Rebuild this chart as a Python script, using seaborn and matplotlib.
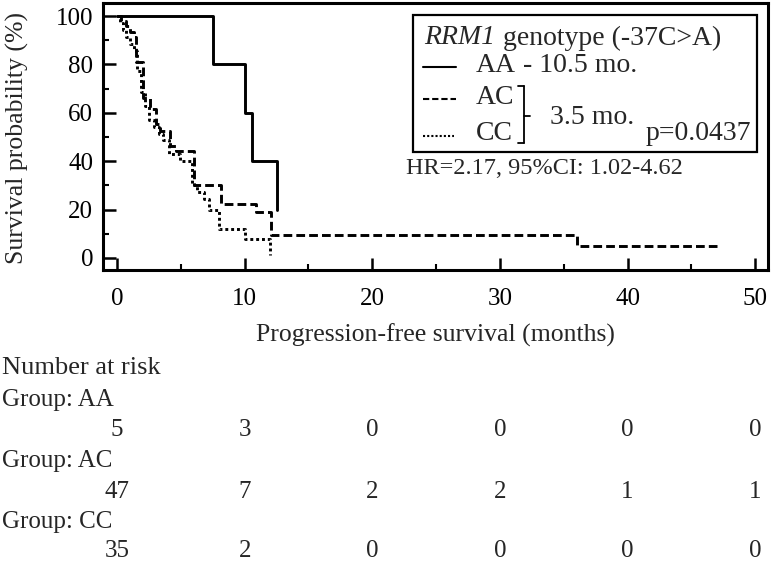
import numpy as np
import pandas as pd
import matplotlib
matplotlib.use("Agg")
import matplotlib.pyplot as plt
import seaborn as sns
from matplotlib.lines import Line2D
from matplotlib.patches import Rectangle

# ---------------- data ----------------
aa_time = [0, 7.5, 10.05, 10.55, 12.5]
aa_surv = [100, 80, 60, 40, 20]

ac_time = [0, 0.3, 0.7, 1.0, 1.3, 1.5, 2.0, 2.55, 3.08, 3.4, 4.13, 4.6, 6.05, 8.15, 10.9, 12.1, 36.05, 47.0]
ac_surv = [100, 97.9, 95.7, 93.6, 91.5, 80.9, 66.0, 61.7, 55.3, 52.4, 46.2, 44.2, 30.0, 22.4, 19.0, 9.6, 4.8, 4.8]

cc_time = [0, 0.2, 0.5, 0.7, 1.0, 1.3, 1.55, 1.9, 2.2, 2.5, 2.9, 3.3, 3.6, 4.1, 4.9, 5.85, 6.3, 6.8, 7.2, 8.0, 10.0, 12.0]
cc_surv = [100, 97.1, 94.3, 91.4, 88.6, 85.7, 77.1, 68.6, 62.9, 57.1, 54.3, 51.4, 48.6, 42.9, 40.0, 30.0, 27.1, 24.3, 20.0, 11.9, 8.0, 1.0]

groups = ["AA", "AC", "CC"]
risk_times = [0, 10, 20, 30, 40, 50]
risk_aa = [5, 3, 0, 0, 0, 0]
risk_ac = [47, 7, 2, 2, 1, 1]
risk_cc = [35, 2, 0, 0, 0, 0]

x_ticks = [0, 10, 20, 30, 40, 50]
y_ticks = [0, 20, 40, 60, 80, 100]

# ---------------- styling ----------------
sns.set_theme(style="ticks")
plt.rcParams["font.family"] = ["Liberation Serif", "DejaVu Serif"]
plt.rcParams["axes.edgecolor"] = "black"

W, H = 772, 566
fig = plt.figure(figsize=(W / 100, H / 100), dpi=100)
fig.patch.set_facecolor("white")

def fx(px):
    return px / W

def fy(py):
    return 1 - py / H

ax = fig.add_axes([fx(103), fy(270), fx(768) - fx(103), fy(3) - fy(270)])
ax.set_facecolor("white")

df = pd.concat([
    pd.DataFrame({"time": aa_time, "surv": aa_surv, "group": "AA"}),
    pd.DataFrame({"time": ac_time, "surv": ac_surv, "group": "AC"}),
    pd.DataFrame({"time": cc_time, "surv": cc_surv, "group": "CC"}),
], ignore_index=True)

sns.lineplot(
    data=df, x="time", y="surv", hue="group", style="group",
    palette={"AA": "black", "AC": "black", "CC": "black"},
    dashes={"AA": "", "AC": (3, 1.4), "CC": (1, 1)},
    drawstyle="steps-post", estimator=None, sort=False, legend=False,
    linewidth=2.1, ax=ax,
)

ax.set_xlim(-1.1, 51.0)
ax.set_ylim(-5, 105.4)
ax.set_xticks(x_ticks)
ax.set_yticks(y_ticks)
ax.set_xticks([5, 15, 25, 35, 45], minor=True)
ax.set_yticks([10, 30, 50, 70, 90], minor=True)
ax.tick_params(which="major", direction="in", length=9, width=1.8, labelsize=18,
               colors="black")
ax.tick_params(which="minor", direction="in", length=4.5, width=1.5, colors="black")
ax.tick_params(axis="x", which="major", pad=13)
ax.tick_params(axis="y", which="major", pad=7)
for s in ax.spines.values():
    s.set_visible(True)
    s.set_linewidth(2.2)
    s.set_color("black")
ax.set_xlabel("")
ax.set_ylabel("")

# axis labels
fig.text(fx(17), fy(138), "Survival probability (%)", rotation=90, ha="center",
         va="center", fontsize=18.5)
fig.text(fx(435), fy(335), "Progression-free survival (months)", ha="center",
         va="center", fontsize=18.5)

# ---------------- legend box ----------------
fig.patches.append(Rectangle((fx(412.5), fy(152)), fx(757) - fx(412.5),
                             fy(15.5) - fy(152), transform=fig.transFigure,
                             fill=False, edgecolor="black", linewidth=1.6))

renderer = fig.canvas.get_renderer()
t1 = fig.text(fx(424), fy(38), "RRM1", style="italic", ha="left", va="center",
              fontsize=20)
bb = t1.get_window_extent(renderer=renderer)
fig.text(bb.x1 / W + fx(8), fy(38), "genotype (-37C>A)", ha="left", va="center",
         fontsize=20)

fig.add_artist(Line2D([fx(423), fx(456)], [fy(67), fy(67)], transform=fig.transFigure,
                      color="black", linewidth=1.5))
fig.add_artist(Line2D([fx(423), fx(456)], [fy(99), fy(99)], transform=fig.transFigure,
                      color="black", linewidth=1.5, dashes=(3, 1.4)))
fig.add_artist(Line2D([fx(423), fx(454)], [fy(136), fy(136)], transform=fig.transFigure,
                      color="black", linewidth=1.5, dashes=(1, 1)))

fig.text(fx(476), fy(66), "AA", ha="left", va="center", fontsize=20)
fig.text(fx(523), fy(66), "- 10.5 mo.", ha="left", va="center", fontsize=20)
fig.text(fx(476), fy(98), "AC", ha="left", va="center", fontsize=20)
fig.text(fx(476), fy(133), "CC", ha="left", va="center", fontsize=20)

# bracket
bx0, bx1 = 517.5, 524
for xs, ys in [([bx0, bx1], [86, 86]), ([bx1, bx1], [86, 143]),
               ([bx0, bx1], [143, 143]), ([bx1, 530], [116, 116])]:
    fig.add_artist(Line2D([fx(v) for v in xs], [fy(v) for v in ys],
                          transform=fig.transFigure, color="black", linewidth=1.3))

fig.text(fx(550), fy(117), "3.5 mo.", ha="left", va="center", fontsize=20)
fig.text(fx(751), fy(134), "p=0.0437", ha="right", va="center", fontsize=20)
fig.text(fx(406), fy(168), "HR=2.17, 95%CI: 1.02-4.62", ha="left", va="center",
         fontsize=17.5)

# ---------------- number at risk table ----------------
fig.text(fx(2), fy(368), "Number at risk", ha="left", va="center", fontsize=19)
blend = matplotlib.transforms.blended_transform_factory(ax.transData, fig.transFigure)
rows = [("Group: AA", risk_aa, 400, 430),
        ("Group: AC", risk_ac, 461, 492),
        ("Group: CC", risk_cc, 522, 551)]
for label, vals, ylab, yval in rows:
    fig.text(fx(2), fy(ylab), label, ha="left", va="center", fontsize=18)
    for t, v in zip(risk_times, vals):
        fig.text(t, fy(yval), str(v), ha="center", va="center", fontsize=18,
                 transform=blend)

fig.savefig("out.png", dpi=100, facecolor="white")
